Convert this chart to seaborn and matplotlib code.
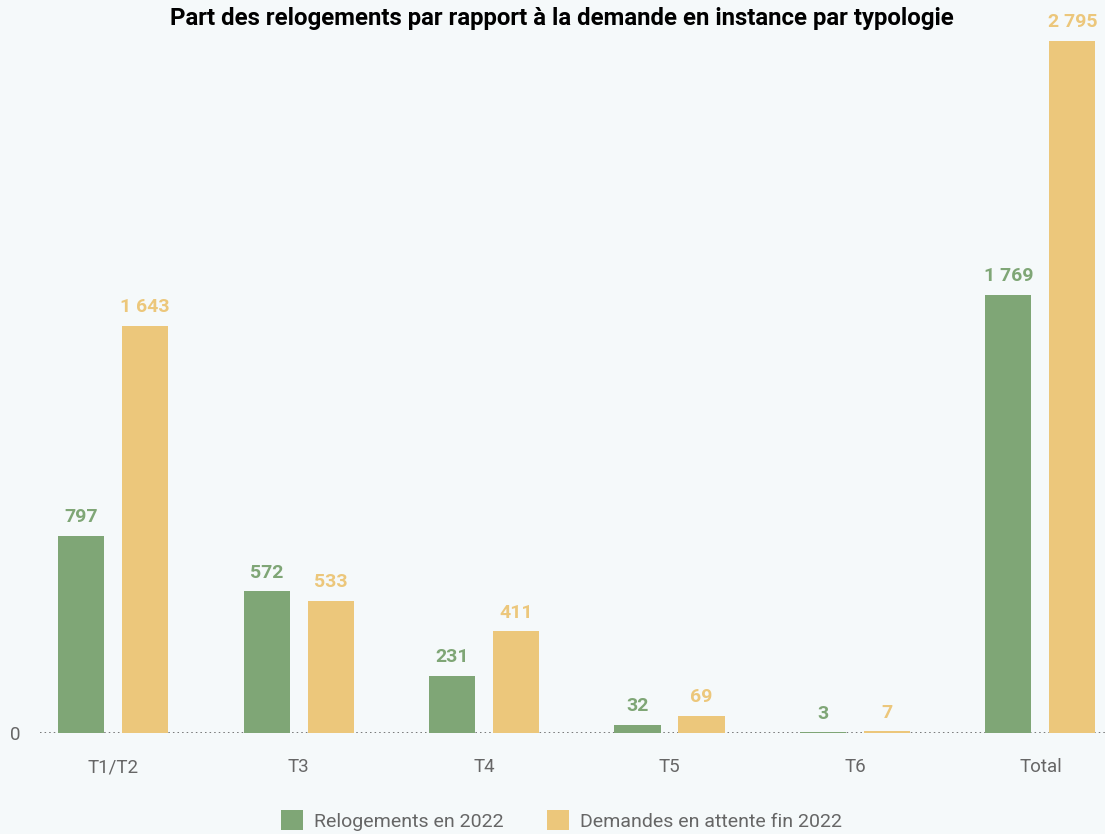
import matplotlib
matplotlib.use("Agg")
import matplotlib.pyplot as plt
import seaborn as sns
import pandas as pd
from matplotlib.patches import Patch

# Data
categories = ["T1/T2", "T3", "T4", "T5", "T6", "Total"]
relogements_2022 = [797, 572, 231, 32, 3, 1769]
demandes_fin_2022 = [1643, 533, 411, 69, 7, 2795]
series_names = ["Relogements en 2022", "Demandes en attente fin 2022"]
title = "Part des relogements par rapport à la demande en instance par typologie"

GREEN = "#7fa676"
YELLOW = "#ecc77b"
BG = "#f5f9fa"
GREY = "#666666"

df = pd.DataFrame({
    "cat": categories * 2,
    "serie": [series_names[0]] * len(categories) + [series_names[1]] * len(categories),
    "val": relogements_2022 + demandes_fin_2022,
})

sns.set_theme(style="white")
plt.rcParams["font.family"] = ["Roboto", "DejaVu Sans"]

W, H = 1105, 834
fig = plt.figure(figsize=(W / 100, H / 100), dpi=100, facecolor=BG)
ax = fig.add_axes([40 / W, (H - 733) / H, (1105 - 40) / W, (733 - 41) / H])
ax.set_facecolor(BG)

sns.barplot(data=df, x="cat", y="val", hue="serie", order=categories,
            hue_order=series_names, palette=[GREEN, YELLOW],
            width=0.69, gap=0.28, saturation=1, legend=False,
            linewidth=0, edgecolor="none", ax=ax)

ax.set_ylim(0, max(demandes_fin_2022))
ax.set_xlim(-0.394, 5.348)
for s in ax.spines.values():
    s.set_visible(False)
ax.axhline(0, color="#555555", linestyle=(0, (1, 2)), linewidth=1.1, zorder=0.5)

ax.set_xlabel("")
ax.set_ylabel("")
ax.set_yticks([0])
ax.set_yticklabels(["0"])
ax.tick_params(axis="y", length=0, pad=14, labelsize=13.5, labelcolor=GREY)
ax.tick_params(axis="x", length=0, pad=18, labelsize=13.5, labelcolor=GREY)

# Value labels, coloured like their series
for cont, color in zip(ax.containers, [GREEN, YELLOW]):
    labels = [f"{int(round(b.get_height())):,}".replace(",", " ") for b in cont]
    ax.bar_label(cont, labels=labels, padding=7, color=color,
                 fontsize=14, fontweight="bold", clip_on=False)

fig.text(562 / W, 1 - 18 / H, title, ha="center", va="center",
         fontsize=17.3, fontweight="bold", color="black")

handles = [Patch(facecolor=GREEN, edgecolor="none"), Patch(facecolor=YELLOW, edgecolor="none")]
fig.legend(handles, series_names, loc="lower center", bbox_to_anchor=(0.508, -0.017),
           ncol=2, frameon=False, fontsize=14, labelcolor=GREY,
           handlelength=1.15, handleheight=1.15, handletextpad=0.55, columnspacing=2.25)

fig.savefig("out.png", dpi=100, facecolor=BG)
